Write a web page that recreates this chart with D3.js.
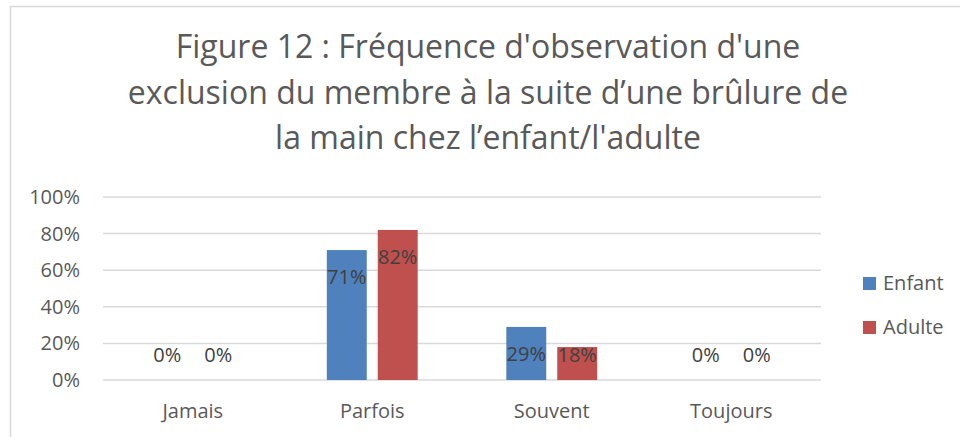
<!DOCTYPE html>
<html>
<head>
<meta charset="utf-8">
<script src="https://cdn.jsdelivr.net/npm/d3@7"></script>
<style>
  body { margin: 0; background: #fff; }
  svg { display: block; font-family: "Open Sans", sans-serif; }
</style>
</head>
<body>
<svg id="chart"></svg>
<script>
// data
var categories = ["Jamais", "Parfois", "Souvent", "Toujours"];
var seriesNames = ["Enfant", "Adulte"];
var enfant = [0, 0.71, 0.29, 0];
var adulte = [0, 0.82, 0.18, 0];
var yTicks = [0, 0.2, 0.4, 0.6, 0.8, 1];
var titleLines = [
  "Figure 12 : Fréquence d'observation d'une",
  "exclusion du membre à la suite d’une brûlure de",
  "la main chez l’enfant/l'adulte"
];
var colors = ["#4f81bd", "#c0504d"];

// layout
var svgWidth = 960, svgHeight = 437,
    plot = {left: 103, right: 821, top: 197, bottom: 380},
    fontSize = "20px";

var svg = d3.select("#chart")
  .attr("width", svgWidth)
  .attr("height", svgHeight);

// chart border
svg.append("rect")
  .attr("x", 10.5).attr("y", 6.5)
  .attr("width", 1000).attr("height", 1000)
  .attr("fill", "#fff")
  .attr("stroke", "#d9d9d9")
  .attr("stroke-width", 1.5);

// title
svg.append("g").selectAll("text")
  .data(titleLines)
  .enter().append("text")
  .attr("x", 488)
  .attr("y", function(d, i) { return 58 + i*45.5; })
  .attr("text-anchor", "middle")
  .attr("fill", "#595959")
  .style("font-size", "32px")
  .text(function(d) { return d; });

var x0 = d3.scaleBand()
  .domain(categories)
  .range([plot.left, plot.right]);

var x1 = d3.scaleBand()
  .domain(seriesNames)
  .range([0, x0.bandwidth()])
  .paddingInner(0.216)
  .paddingOuter(0.87);

var y = d3.scaleLinear()
  .domain([0, 1])
  .range([plot.bottom, plot.top]);

// gridlines
svg.append("g").selectAll("line")
  .data(yTicks)
  .enter().append("line")
  .attr("x1", plot.left).attr("x2", plot.right)
  .attr("y1", function(d) { return y(d); })
  .attr("y2", function(d) { return y(d); })
  .attr("stroke", "#d9d9d9")
  .attr("stroke-width", 1.5);

// y axis labels
var yAxis = d3.axisLeft(y)
  .tickValues(yTicks)
  .tickFormat(d3.format(".0%"))
  .tickSize(0)
  .tickPadding(0);

var gy = svg.append("g")
  .attr("transform", "translate(80,0)")
  .call(yAxis);
gy.select(".domain").remove();
gy.selectAll("text")
  .attr("fill", "#595959")
  .style("font-size", fontSize)
  .style("font-family", "'Open Sans', sans-serif");

// x axis labels
var xAxis = d3.axisBottom(x0).tickSize(0).tickPadding(0);
var gx = svg.append("g")
  .attr("transform", "translate(0,404)")
  .call(xAxis);
gx.select(".domain").remove();
gx.selectAll("text")
  .attr("fill", "#595959")
  .style("font-size", fontSize)
  .style("font-family", "'Open Sans', sans-serif");

// bars
var rows = categories.map(function(c, i) {
  return [
    {cat: c, name: seriesNames[0], value: enfant[i], color: colors[0]},
    {cat: c, name: seriesNames[1], value: adulte[i], color: colors[1]}
  ];
});

var groups = svg.append("g").selectAll("g")
  .data(rows)
  .enter().append("g")
  .attr("transform", function(d) { return "translate(" + x0(d[0].cat) + ",0)"; });

groups.selectAll("rect")
  .data(function(d) { return d; })
  .enter().append("rect")
  .attr("x", function(d) { return x1(d.name); })
  .attr("width", x1.bandwidth())
  .attr("y", function(d) { return y(d.value); })
  .attr("height", function(d) { return y(0) - y(d.value); })
  .attr("fill", function(d) { return d.color; });

groups.selectAll("text")
  .data(function(d) { return d; })
  .enter().append("text")
  .attr("x", function(d) { return x1(d.name) + x1.bandwidth()/2; })
  .attr("y", function(d) { return Math.min(y(d.value) + 34, y(0) - 18); })
  .attr("text-anchor", "middle")
  .attr("fill", "#404040")
  .style("font-size", fontSize)
  .text(function(d) { return d3.format(".0%")(d.value); });

// legend
var legend = svg.append("g").selectAll("g")
  .data(seriesNames)
  .enter().append("g")
  .attr("transform", function(d, i) { return "translate(863," + (277 + i*44) + ")"; });

legend.append("rect")
  .attr("width", 13).attr("height", 13)
  .attr("fill", function(d, i) { return colors[i]; });

legend.append("text")
  .attr("x", 20).attr("y", 13)
  .attr("fill", "#595959")
  .style("font-size", fontSize)
  .text(function(d) { return d; });
</script>
</body>
</html>
